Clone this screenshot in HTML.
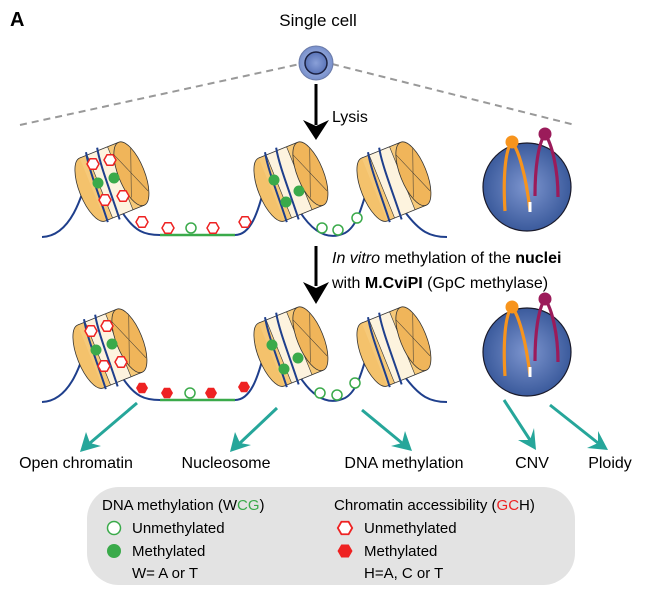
<!DOCTYPE html>
<html><head><meta charset="utf-8"><style>
body{margin:0;background:#fff}
svg{display:block;font-family:"Liberation Sans",Arial,sans-serif}
</style></head><body>
<svg width="651" height="603" viewBox="0 0 651 603" xmlns="http://www.w3.org/2000/svg">
<defs>
<radialGradient id="cg" cx="0.5" cy="0.5" r="0.6"><stop offset="0" stop-color="#7d95cf"/><stop offset="1" stop-color="#2e4f92"/></radialGradient>
<radialGradient id="sc" cx="0.5" cy="0.5" r="0.5"><stop offset="0" stop-color="#b4c4ea"/><stop offset="1" stop-color="#7890cc"/></radialGradient>
<radialGradient id="sc2" cx="0.5" cy="0.5" r="0.5"><stop offset="0" stop-color="#8aa0d8"/><stop offset="1" stop-color="#5a74b8"/></radialGradient>
<g id="nuc">
 <g transform="rotate(-22)">
  <ellipse cx="-20" cy="0" rx="13" ry="34" fill="#f4c26c" stroke="#333" stroke-width="0.8"/>
  <rect x="-20" y="-34" width="42" height="68" fill="#f6c979" stroke="none"/>
  <rect x="-12" y="-34" width="22" height="68" fill="#fdf3de"/>
  <line x1="-20" y1="-34" x2="22" y2="-34" stroke="#333" stroke-width="0.8"/>
  <line x1="-20" y1="34" x2="22" y2="34" stroke="#333" stroke-width="0.8"/>
  <line x1="-12" y1="-34" x2="-12" y2="34" stroke="#333" stroke-width="0.6"/>
  <line x1="10" y1="-34" x2="10" y2="34" stroke="#333" stroke-width="0.6"/>
  <ellipse cx="22" cy="0" rx="13" ry="34" fill="#f0b55a" stroke="#333" stroke-width="0.8"/>
  <path d="M13,-24 L31,22 M13,22 L31,-24" stroke="#333" stroke-width="0.5" fill="none"/>
  <path d="M-18,36 C-16,10 -16,-20 -12,-37" stroke="#1f3f8c" stroke-width="2" fill="none"/>
  <path d="M-6,38 C-4,10 -4,-20 0,-37" stroke="#1f3f8c" stroke-width="2" fill="none"/>
 </g>
</g>
<polygon id="hex" points="6,0 3,5.2 -3,5.2 -6,0 -3,-5.2 3,-5.2"/>
<g id="chrom">
 <path d="M505,212 C503,180 505,150 512,143 C518,150 526,175 530,212" fill="none" stroke="#f7941d" stroke-width="3.2"/>
 <circle cx="512" cy="143" r="6.5" fill="#f7941d"/>
 <line x1="530" y1="203" x2="530" y2="213" stroke="#fff" stroke-width="3"/>
 <path d="M535,197 C535,170 538,145 545,135 C552,145 558,170 558,198" fill="none" stroke="#9b1b5a" stroke-width="3.2"/>
 <circle cx="545" cy="135" r="6.5" fill="#9b1b5a"/>
</g>
</defs>

<text x="10" y="26" font-size="20" font-weight="bold">A</text>
<text x="318" y="26" font-size="17" text-anchor="middle">Single cell</text>
<line x1="20" y1="125" x2="300" y2="64" stroke="#999" stroke-width="2" stroke-dasharray="7,5"/>
<line x1="332" y1="64" x2="575" y2="125" stroke="#999" stroke-width="2" stroke-dasharray="7,5"/>
<circle cx="316" cy="63" r="17" fill="url(#sc)" stroke="#6a7aa8" stroke-width="1"/>
<circle cx="316" cy="63" r="11" fill="url(#sc2)" stroke="#1a2040" stroke-width="1.5"/>

<line x1="316" y1="84" x2="316" y2="125" stroke="#000" stroke-width="3"/>
<path d="M303,120 L316,140 L329,120 L316,126 Z" fill="#000"/>
<text x="332" y="122" font-size="16">Lysis</text>

<line x1="316" y1="246" x2="316" y2="286" stroke="#000" stroke-width="3"/>
<path d="M303,282 L316,304 L329,282 L316,288 Z" fill="#000"/>
<text x="332" y="263" font-size="16"><tspan font-style="italic">In vitro</tspan> methylation of the <tspan font-weight="bold">nuclei</tspan></text>
<text x="332" y="288" font-size="16">with <tspan font-weight="bold">M.CviPI</tspan> (GpC methylase)</text>

<g id="row1">
 <path d="M42,237 C70,236 82,200 92,160" fill="none" stroke="#1f3f8c" stroke-width="2"/>
 <path d="M122,212 C135,232 145,235 160,235" fill="none" stroke="#1f3f8c" stroke-width="2"/>
 <line x1="160" y1="235" x2="235" y2="235" stroke="#3aaa4a" stroke-width="2.5"/>
 <path d="M235,235 C250,235 258,215 266,180" fill="none" stroke="#1f3f8c" stroke-width="2"/>
 <path d="M300,212 C315,235 330,240 345,233 C358,226 362,205 370,180" fill="none" stroke="#1f3f8c" stroke-width="2"/>
 <path d="M405,212 C420,232 430,237 447,237" fill="none" stroke="#1f3f8c" stroke-width="2"/>
</g>
<use href="#row1" y="165"/>
<use href="#nuc" x="111" y="182"/>
<use href="#nuc" x="290" y="182"/>
<use href="#nuc" x="393" y="182"/>
<use href="#nuc" x="109" y="349"/>
<use href="#nuc" x="290" y="347"/>
<use href="#nuc" x="393" y="347"/>

<g fill="#fff" stroke="#e22" stroke-width="1.5">
 <use href="#hex" x="93" y="164"/><use href="#hex" x="110" y="160"/>
 <use href="#hex" x="105" y="200"/><use href="#hex" x="123" y="196"/>
 <use href="#hex" x="142" y="222"/><use href="#hex" x="168" y="228"/>
 <use href="#hex" x="213" y="228"/><use href="#hex" x="245" y="222"/>
</g>
<g fill="#3aaa4a"><circle cx="98" cy="183" r="5.5"/><circle cx="114" cy="178" r="5.5"/>
<circle cx="274" cy="180" r="5.5"/><circle cx="299" cy="191" r="5.5"/><circle cx="286" cy="202" r="5.5"/></g>
<g fill="#fff" stroke="#3aaa4a" stroke-width="1.5"><circle cx="191" cy="228" r="5"/>
<circle cx="322" cy="228" r="5"/><circle cx="338" cy="230" r="5"/><circle cx="357" cy="218" r="5"/></g>

<g fill="#fff" stroke="#e22" stroke-width="1.5">
 <use href="#hex" x="91" y="331"/><use href="#hex" x="107" y="326"/>
 <use href="#hex" x="104" y="366"/><use href="#hex" x="121" y="362"/>
</g>
<g fill="#e22">
 <use href="#hex" x="142" y="388"/><use href="#hex" x="167" y="393"/>
 <use href="#hex" x="211" y="393"/><use href="#hex" x="244" y="387"/>
</g>
<g fill="#3aaa4a"><circle cx="96" cy="350" r="5.5"/><circle cx="112" cy="344" r="5.5"/>
<circle cx="272" cy="345" r="5.5"/><circle cx="298" cy="358" r="5.5"/><circle cx="284" cy="369" r="5.5"/></g>
<g fill="#fff" stroke="#3aaa4a" stroke-width="1.5"><circle cx="190" cy="393" r="5"/>
<circle cx="320" cy="393" r="5"/><circle cx="337" cy="395" r="5"/><circle cx="355" cy="383" r="5"/></g>

<circle cx="527" cy="187" r="44" fill="url(#cg)" stroke="#1a1a2a" stroke-width="1.2"/>
<use href="#chrom" transform="translate(0,-1)"/>
<circle cx="527" cy="352" r="44" fill="url(#cg)" stroke="#1a1a2a" stroke-width="1.2"/>
<use href="#chrom" transform="translate(0,164)"/>

<g stroke="#26a69a" stroke-width="3" fill="none">
 <line x1="137" y1="403" x2="90" y2="443"/>
 <line x1="277" y1="408" x2="240" y2="443"/>
 <line x1="362" y1="410" x2="402" y2="443"/>
 <line x1="504" y1="400" x2="530" y2="440"/>
 <line x1="550" y1="405" x2="598" y2="443"/>
</g>
<g fill="#26a69a">
 <path d="M80,452 L86,432 L90,443 L101,446 Z"/>
 <path d="M230,452 L235,432 L240,443 L251,445 Z"/>
 <path d="M412,451 L391,446 L402,443 L405,431 Z"/>
 <path d="M536,450 L518,440 L530,440 L534,428 Z"/>
 <path d="M608,450 L587,448 L598,443 L598,431 Z"/>
</g>
<g font-size="16" text-anchor="middle">
 <text x="76" y="468">Open chromatin</text>
 <text x="226" y="468">Nucleosome</text>
 <text x="404" y="468">DNA methylation</text>
 <text x="532" y="468">CNV</text>
 <text x="610" y="468">Ploidy</text>
</g>

<rect x="87" y="487" width="488" height="98" rx="32" fill="#e3e3e3"/>
<g font-size="15">
 <text x="102" y="510">DNA methylation (W<tspan fill="#3aaa4a">CG</tspan>)</text>
 <text x="132" y="533">Unmethylated</text>
 <text x="132" y="556">Methylated</text>
 <text x="132" y="578">W= A or T</text>
 <text x="334" y="510">Chromatin accessibility (<tspan fill="#e22">GC</tspan>H)</text>
 <text x="364" y="533">Unmethylated</text>
 <text x="364" y="556">Methylated</text>
 <text x="364" y="578">H=A, C or T</text>
</g>
<circle cx="114" cy="528" r="6.5" fill="#fff" stroke="#3aaa4a" stroke-width="1.5"/>
<circle cx="114" cy="551" r="7" fill="#3aaa4a"/>
<use href="#hex" x="345" y="528" fill="#fff" stroke="#e22" stroke-width="1.5" transform="translate(345,528) scale(1.2) translate(-345,-528)"/>
<use href="#hex" x="345" y="551" fill="#e22" transform="translate(345,551) scale(1.25) translate(-345,-551)"/>
</svg>
</body></html>
